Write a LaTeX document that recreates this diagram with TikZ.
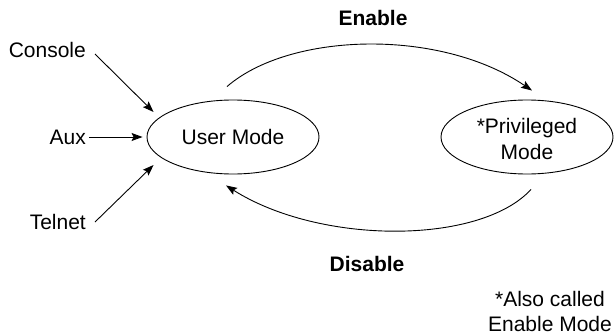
\documentclass[tikz,border=0pt]{standalone}
\usepackage{fontspec}
\setmainfont{Liberation Sans}
\usetikzlibrary{shapes.geometric,arrows.meta,calc}
\begin{document}
\begin{tikzpicture}[x=1pt,y=-1pt,
  every node/.style={font=\fontsize{21}{25}\selectfont, inner sep=0pt},
  state/.style={draw, ellipse, line width=0.9pt, minimum width=172pt, minimum height=74pt},
  arr/.style={line width=0.9pt, -{Stealth[length=11pt,width=8pt,inset=2pt]}},
  lbl/.style={font=\fontsize{21}{25}\selectfont\bfseries}]
\useasboundingbox (0,0) rectangle (615,334);
\node[state] (user) at (233,137) {User Mode};
\node[state, align=center, font=\fontsize{21}{26}\selectfont] (priv) at (527,137) {\rule{0pt}{20pt}*Privileged\\Mode};
\node[anchor=east] (console) at (86,50) {Console};
\node[anchor=east] (aux) at (86,137) {Aux};
\node[anchor=east] (telnet) at (86,222) {Telnet};
\node[lbl] (enable) at (373,18) {Enable};
\node[lbl] (disable) at (367,264) {Disable};
\node[align=center] (note) at (550,311) {*Also called\\Enable Mode};
\draw[arr] ($(console.east)+(9,4)$) -- ($(user.west)+(7,-25)$);
\draw[arr] ($(aux.east)+(3,0)$) -- ($(user.west)+(-4,0)$);
\draw[arr] ($(telnet.east)+(9,0)$) -- ($(user.west)+(7,28)$);
\draw[arr] ($(user.north)+(-6,-13)$) .. controls (290,32) and (440,28) .. ($(priv.north)+(5,-9)$);
\draw[arr] ($(priv.south)+(4,15)$) .. controls (480,245) and (320,245) .. ($(user.south)+(-7,11)$);
\end{tikzpicture}
\end{document}
